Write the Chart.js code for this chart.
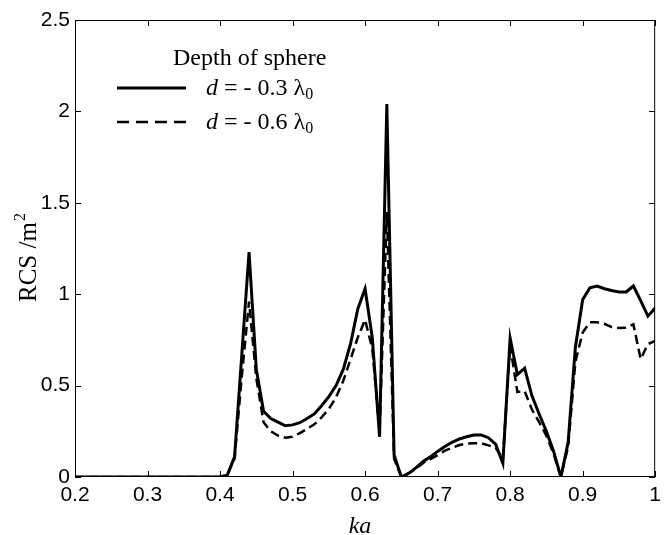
<!DOCTYPE html>
<html>
<head>
<meta charset="utf-8">
<script src="https://cdn.jsdelivr.net/npm/chart.js@4"></script>
<style>
  html, body { margin: 0; padding: 0; background: #fff; }
  #wrap { width: 667px; height: 535px; }
</style>
</head>
<body>
<div id="wrap"><canvas id="rcs"></canvas></div>
<script>
// ka values (x axis)
var ka = [0.20, 0.21, 0.22, 0.23, 0.24, 0.25, 0.26, 0.27, 0.28, 0.29,
          0.30, 0.31, 0.32, 0.33, 0.34, 0.35, 0.36, 0.37, 0.38, 0.39,
          0.40, 0.41, 0.42, 0.43, 0.44, 0.45, 0.46, 0.47, 0.48, 0.49,
          0.50, 0.51, 0.52, 0.53, 0.54, 0.55, 0.56, 0.57, 0.58, 0.59,
          0.60, 0.61, 0.62, 0.63, 0.64, 0.65, 0.66, 0.67, 0.68, 0.69,
          0.70, 0.71, 0.72, 0.73, 0.74, 0.75, 0.76, 0.77, 0.78, 0.79,
          0.80, 0.81, 0.82, 0.83, 0.84, 0.85, 0.86, 0.87, 0.88, 0.89,
          0.90, 0.91, 0.92, 0.93, 0.94, 0.95, 0.96, 0.97, 0.98, 0.99, 1.00];

// RCS for d = -0.3 lambda0 (solid)
var rcsNear = [0, 0, 0, 0, 0, 0, 0, 0, 0, 0,
               0, 0, 0, 0, 0, 0, 0, 0, 0, 0,
               0, 0.01, 0.11, 0.67, 1.23, 0.59, 0.36, 0.32, 0.30, 0.28,
               0.285, 0.297, 0.32, 0.345, 0.39, 0.44, 0.50, 0.59, 0.73, 0.92,
               1.03, 0.76, 0.22, 2.04, 0.12, 0.0, 0.02, 0.05, 0.085, 0.11,
               0.14, 0.167, 0.19, 0.208, 0.22, 0.23, 0.23, 0.215, 0.18, 0.075,
               0.76, 0.56, 0.595, 0.445, 0.345, 0.25, 0.14, 0.0, 0.19, 0.71,
               0.97, 1.035, 1.045, 1.03, 1.02, 1.012, 1.012, 1.045, 0.965, 0.88, 0.925];

// RCS for d = -0.6 lambda0 (dashed)
var rcsDeep = [0, 0, 0, 0, 0, 0, 0, 0, 0, 0,
               0, 0, 0, 0, 0, 0, 0, 0, 0, 0,
               0, 0.01, 0.10, 0.55, 0.96, 0.54, 0.30, 0.25, 0.226, 0.215,
               0.22, 0.24, 0.263, 0.288, 0.326, 0.372, 0.436, 0.527, 0.645, 0.764,
               0.86, 0.70, 0.25, 1.45, 0.10, 0.0, 0.02, 0.045, 0.077, 0.098,
               0.12, 0.144, 0.16, 0.175, 0.182, 0.185, 0.185, 0.173, 0.16, 0.10,
               0.72, 0.465, 0.47, 0.37, 0.30, 0.226, 0.126, 0.0, 0.166, 0.63,
               0.79, 0.846, 0.846, 0.838, 0.82, 0.815, 0.817, 0.835, 0.645, 0.727, 0.745];

var legendTitle = 'Depth of sphere';
var legendDepths = ['0.3', '0.6'];

function pts(xs, ys) {
  return xs.map(function (x, i) { return { x: x, y: ys[i] }; });
}

var serif = '"Liberation Serif", "Times New Roman", serif';

// inward ticks on all four sides, frame, axis titles and legend
var decorations = {
  id: 'decorations',
  afterDraw: function (chart) {
    var ctx = chart.ctx;
    var a = chart.chartArea;
    var xs = chart.scales.x, ys = chart.scales.y;
    ctx.save();
    ctx.strokeStyle = '#000';
    ctx.lineWidth = 1;
    ctx.strokeRect(a.left + 0.5, a.top + 0.5, a.right - a.left - 1, a.bottom - a.top - 1);
    ctx.beginPath();
    xs.ticks.forEach(function (t) {
      var px = Math.round(xs.getPixelForValue(t.value)) + 0.5;
      ctx.moveTo(px, a.bottom); ctx.lineTo(px, a.bottom - 6);
      ctx.moveTo(px, a.top); ctx.lineTo(px, a.top + 6);
    });
    ys.ticks.forEach(function (t) {
      var py = Math.round(ys.getPixelForValue(t.value)) + 0.5;
      ctx.moveTo(a.left, py); ctx.lineTo(a.left + 6, py);
      ctx.moveTo(a.right, py); ctx.lineTo(a.right - 6, py);
    });
    ctx.stroke();

    ctx.fillStyle = '#000';
    // x title
    ctx.font = 'italic 24px ' + serif;
    ctx.textAlign = 'center';
    ctx.textBaseline = 'alphabetic';
    ctx.fillText('ka', 360, 533);

    // y title
    ctx.save();
    ctx.translate(36, 302);
    ctx.rotate(-Math.PI / 2);
    ctx.textAlign = 'left';
    ctx.font = '25px ' + serif;
    ctx.fillText('RCS /m', 0, 0);
    var w = ctx.measureText('RCS /m').width;
    ctx.font = '16px ' + serif;
    ctx.fillText('2', w + 1, -11);
    ctx.restore();

    // legend
    ctx.textAlign = 'left';
    ctx.font = '24px ' + serif;
    ctx.fillText(legendTitle, 173, 65);
    var rowsY = [88, 122];
    chart.data.datasets.forEach(function (ds, i) {
      var y = rowsY[i];
      ctx.beginPath();
      ctx.lineWidth = ds.borderWidth;
      ctx.setLineDash(i ? [12, 7] : []);
      ctx.moveTo(117, y); ctx.lineTo(186, y);
      ctx.stroke();
      ctx.setLineDash([]);
      var x = 206, base = y + 7;
      ctx.font = 'italic 24px ' + serif;
      ctx.fillText('d', x, base);
      x += ctx.measureText('d ').width;
      ctx.font = '24px ' + serif;
      var s = '= - ' + legendDepths[i] + ' \u03bb';
      ctx.fillText(s, x, base);
      x += ctx.measureText(s).width;
      ctx.font = '16px ' + serif;
      ctx.fillText('0', x, base + 4);
    });
    ctx.restore();
  }
};

new Chart(document.getElementById('rcs'), {
  type: 'line',
  data: {
    datasets: [
      {
        label: 'd = -0.3 \u03bb0',
        data: pts(ka, rcsNear),
        borderColor: '#000',
        borderWidth: 3,
        pointRadius: 0,
        tension: 0,
        fill: false
      },
      {
        label: 'd = -0.6 \u03bb0',
        data: pts(ka, rcsDeep),
        borderColor: '#000',
        borderWidth: 2.5,
        borderDash: [9, 5],
        pointRadius: 0,
        tension: 0,
        fill: false
      }
    ]
  },
  options: {
    responsive: true,
    maintainAspectRatio: false,
    animation: false,
    layout: { padding: { top: 20, right: 10, left: 0, bottom: 0 } },
    plugins: {
      legend: { display: false },
      tooltip: { enabled: false }
    },
    scales: {
      x: {
        type: 'linear',
        min: 0.2,
        max: 1,
        grid: { display: false, drawTicks: false },
        border: { display: false },
        afterFit: function (s) { s.height = 58; },
        ticks: {
          stepSize: 0.1,
          padding: 6,
          color: '#000',
          font: { family: '"Liberation Sans", Arial, sans-serif', size: 21 },
          maxRotation: 0,
          callback: function (v) { return String(+v.toFixed(1)); }
        }
      },
      y: {
        min: 0,
        max: 2.5,
        grid: { display: false, drawTicks: false },
        border: { display: false },
        afterFit: function (s) { s.width = 75; },
        ticks: {
          stepSize: 0.5,
          padding: 5,
          color: '#000',
          font: { family: '"Liberation Sans", Arial, sans-serif', size: 21 },
          callback: function (v) { return String(+v.toFixed(1)); }
        }
      }
    }
  },
  plugins: [decorations]
});
</script>
</body>
</html>
